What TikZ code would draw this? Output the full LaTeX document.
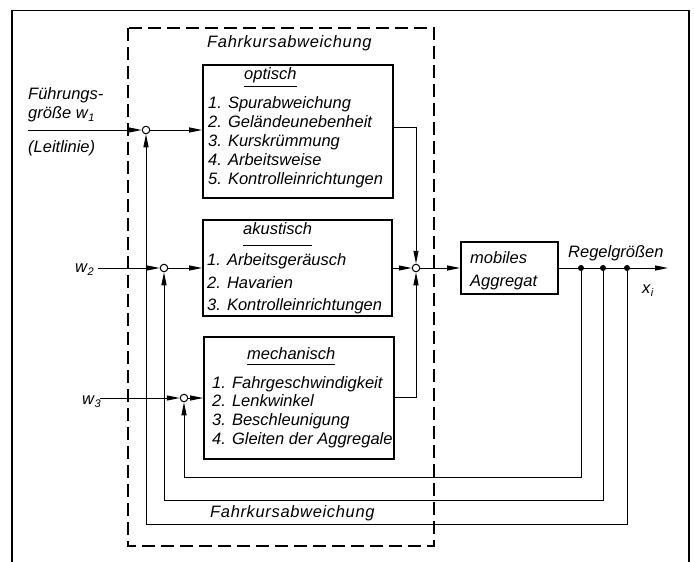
\documentclass[tikz,border=0pt]{standalone}
\usepackage{fontspec}
\setmainfont{Liberation Sans}
\usetikzlibrary{arrows.meta,calc}
\newcommand\dinf{\fontsize{16.5}{19}\selectfont\itshape}
\newcommand\subn[1]{\kern0.5pt\raisebox{-3.5pt}{\fontsize{11}{11}\selectfont #1}}
\begin{document}
\begin{tikzpicture}[x=1pt,y=-1pt,
  lbl/.style={font=\dinf,inner sep=0pt,anchor=base west},
  blk/.style={draw,line width=1.8pt,rectangle,inner sep=0pt},
  sig/.style={line width=1pt},
  fb/.style={line width=0.8pt},
  arr/.style={-{Triangle[length=13pt,width=5pt]}},
  junc/.style={circle,draw,fill=white,line width=1pt,minimum size=7.5pt,inner sep=0pt},
  tap/.style={circle,fill,minimum size=6pt,inner sep=0pt},
  dashbox/.style={line width=1.1pt,dash pattern=on 13pt off 6pt}]
\useasboundingbox (0,0) rectangle (694,562);
% outer frame
\draw[line width=1.3pt] (12,562) -- (12,10.5) -- (689,10.5) -- (689,562);
% dashed region
\draw[dashbox] (128,28) rectangle (434,546);
% blocks
\node[blk,minimum width=190pt,minimum height=133pt] (opt) at (298,131.5) {};
\node[blk,minimum width=189pt,minimum height=96pt] (aku) at (297.5,268) {};
\node[blk,minimum width=190pt,minimum height=122pt] (mech) at (299,398) {};
\node[blk,minimum width=97pt,minimum height=52pt] (agg) at (509.5,268) {};
% texts
\node[lbl] (topT) at (207,47) {\addfontfeature{LetterSpace=4}Fahrkursabweichung};
\node[lbl] (botT) at (210,517) {\addfontfeature{LetterSpace=4}Fahrkursabweichung};
\node[lbl] (optT) at (244,79) {optisch};
\node[lbl] (o1) at (208,108) {1. Spurabweichung};
\node[lbl] (o2) at (208,127) {2. Geländeunebenheit};
\node[lbl] (o3) at (208,146) {3. Kurskrümmung};
\node[lbl] (o4) at (208,165) {4. Arbeitsweise};
\node[lbl] (o5) at (208,184) {5. Kontrolleinrichtungen};
\node[lbl] (akuT) at (243,234) {akustisch};
\node[lbl] (a1) at (207,265) {1. Arbeitsgeräusch};
\node[lbl] (a2) at (207,288) {2. Havarien};
\node[lbl] (a3) at (207,310) {3. Kontrolleinrichtungen};
\node[lbl] (mechT) at (247,359) {mechanisch};
\node[lbl] (m1) at (212,388) {1. Fahrgeschwindigkeit};
\node[lbl] (m2) at (212,406) {2. Lenkwinkel};
\node[lbl] (m3) at (212,425) {3. Beschleunigung};
\node[lbl] (m4) at (212,444) {4. Gleiten der Aggregale};
\node[lbl] (agg1) at (470,263) {mobiles};
\node[lbl] (agg2) at (470,286) {Aggregat};
\node[lbl] (reg) at (568,257) {Regelgrößen};
\node[lbl] (xi) at (642,293) {x\subn{i}};
\node[lbl] (fg1) at (28,99) {Führungs-};
\node[lbl] (fg2) at (28,118) {größe w\subn{1}};
\node[lbl] (fg3) at (28,152) {(Leitlinie)};
\node[lbl] (w2) at (75,272) {w\subn{2}};
\node[lbl] (w3) at (82,404) {w\subn{3}};
% title underlines
\draw[sig] ([yshift=-7pt]optT.base west) -- ([yshift=-7pt]optT.base east);
\draw[sig] ([yshift=-11pt]akuT.base west) -- ([yshift=-11pt]akuT.base east);
\draw[sig] ([yshift=-5pt]mechT.base west) -- ([yshift=-5pt]mechT.base east);
% junctions
\node[junc] (j1) at (146,130) {};
\node[junc] (j2) at (164,268) {};
\node[junc] (j3) at (184,398) {};
\node[junc] (S) at (416,268) {};
\node[tap] (d1) at (581,268) {};
\node[tap] (d2) at (603,268) {};
\node[tap] (d3) at (627,268) {};
% free ends
\coordinate (w1s) at (28,130);
\coordinate (w2s) at (98,268);
\coordinate (w3s) at (100,398);
\coordinate (xend) at (668,268);
\coordinate (c1) at (581,477);
\coordinate (c2) at (603,500);
\coordinate (c3) at (627,524);
% inputs
\draw[sig,arr] (w1s) -- (j1);
\draw[sig,arr] (j1) -- (j1 -| opt.west);
\draw[sig,arr] (w2s) -- (j2);
\draw[sig,arr] (j2) -- (aku.west);
\draw[sig,arr] (w3s) -- (j3);
\draw[sig,arr] (j3) -- (mech.west);
% to summing point
\draw[sig,arr] ([yshift=4.5pt]opt.east) -| (S);
\draw[sig,arr] (aku.east) -- (S);
\draw[sig,arr] ([yshift=1pt]mech.east) -| (S);
\draw[sig,arr] (S) -- (agg.west);
% output
\draw[sig,arr] (agg.east) -- (xend);
% feedback
\draw[fb,arr] (d1) -- (c1) -| (j3);
\draw[fb,arr] (d2) -- (c2) -| (j2);
\draw[fb,arr] (d3) -- (c3) -| (j1);
\end{tikzpicture}
\end{document}
